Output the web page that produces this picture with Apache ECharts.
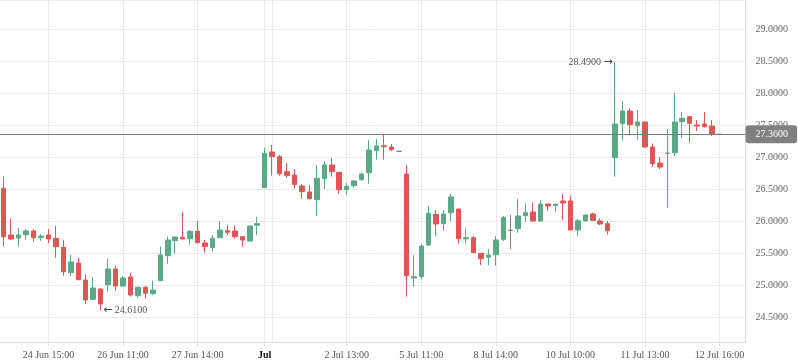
<!DOCTYPE html>
<html>
<head>
<meta charset="utf-8">
<script src="https://cdn.jsdelivr.net/npm/echarts@6/dist/echarts.min.js"></script>
<style>
html,body{margin:0;padding:0;background:#fff;}
#chart{width:798px;height:363px;}
</style>
</head>
<body>
<div id="chart"></div>
<script>
// ---- data ----
const opens = [26.516,25.786,25.739,25.791,25.849,25.744,25.786,25.734,25.594,25.197,
25.348,25.083,24.781,24.942,25.010,25.255,24.989,25.130,24.838,24.969,
24.869,25.072,25.463,25.697,25.750,25.728,25.843,25.661,25.588,25.744,
25.854,25.849,25.760,25.692,25.937,26.525,27.083,27.010,26.775,26.723,
26.552,26.458,26.338,26.666,26.880,26.765,26.494,26.556,26.650,26.760,
27.104,27.181,27.161,27.094,26.739,25.114,25.135,25.630,26.109,25.963,
26.134,26.192,25.724,25.744,25.500,25.437,25.478,25.718,25.859,25.884,
26.088,26.145,26.005,26.270,26.249,26.317,26.317,25.864,26.005,26.114,
26.005,25.963,26.994,27.525,27.723,27.494,27.552,27.161,26.911,27.059,
27.072,27.557,27.635,27.505,27.520,27.489,27.360];
const closes = [25.759,25.724,25.786,25.849,25.744,25.770,25.723,25.603,25.212,25.364,
25.088,24.770,24.958,24.708,25.255,24.989,25.114,24.849,24.969,24.875,
24.927,25.474,25.708,25.755,25.724,25.843,25.666,25.603,25.734,25.864,
25.828,25.760,25.708,25.927,25.963,27.062,27.010,26.744,26.713,26.572,
26.463,26.353,26.672,26.880,26.775,26.494,26.547,26.630,26.739,27.114,
27.177,27.166,27.119,27.094,25.150,25.135,25.614,26.125,25.958,26.114,
26.380,25.728,25.744,25.510,25.416,25.473,25.708,26.062,25.859,26.083,
26.134,26.005,26.270,26.239,26.265,26.286,25.864,26.010,26.098,26.015,
25.958,25.853,27.520,27.723,27.510,27.552,27.161,26.900,26.848,27.067,
27.552,27.609,27.531,27.489,27.479,27.364,27.360];
const lows = [25.603,25.708,25.603,25.708,25.681,25.697,25.656,25.431,25.150,25.145,
25.080,24.708,24.770,24.610,24.900,24.911,24.979,24.822,24.806,24.791,
24.849,25.070,25.338,25.494,25.720,25.635,25.656,25.510,25.526,25.744,
25.786,25.734,25.603,25.690,25.786,26.520,26.713,26.713,26.681,26.510,
26.353,26.343,26.088,26.505,26.697,26.431,26.416,26.525,26.630,26.588,
26.963,26.963,27.099,27.094,24.822,24.978,25.093,25.614,25.770,25.853,
26.005,25.650,25.650,25.505,25.317,25.317,25.302,25.692,25.567,25.822,
25.994,25.994,25.994,26.166,26.150,26.020,25.860,25.770,26.000,26.010,
25.942,25.791,26.697,27.259,27.364,27.270,27.150,26.853,26.817,26.213,
27.020,27.302,27.228,27.411,27.463,27.333,27.360];
const highs = [26.697,26.036,25.895,25.880,25.875,25.801,25.880,25.931,25.708,25.473,
25.431,25.172,25.130,24.950,25.411,25.302,25.145,25.197,24.975,24.994,
25.072,25.603,25.760,25.760,26.145,25.864,26.005,25.708,25.786,26.005,
25.947,25.931,25.765,25.930,26.072,27.150,27.192,27.041,26.911,26.817,
26.583,26.567,26.880,26.942,26.989,26.770,26.598,26.645,26.760,27.270,
27.286,27.370,27.208,27.094,26.880,25.473,25.645,26.239,26.177,26.177,
26.427,26.195,25.890,25.770,25.505,25.567,25.770,26.083,26.098,26.348,
26.281,26.291,26.333,26.275,26.281,26.427,26.400,26.036,26.100,26.135,
26.047,26.005,28.490,27.880,27.765,27.739,27.560,27.218,27.005,27.442,
28.010,27.708,27.645,27.583,27.708,27.583,27.360];
const slotCount = 100; // candle slots on the axis (last few empty)
const tickIndexes = [6, 16, 26, 35, 46, 56, 66, 76, 86, 96];
const tickLabels = ['24 Jun 15:00','26 Jun 11:00','27 Jun 14:00','Jul','2 Jul 13:00',
                    '5 Jul 11:00','8 Jul 14:00','10 Jul 10:00','11 Jul 13:00','12 Jul 16:00'];
const gridIndexes = [6, 16, 26, 35, 36, 46, 56, 66, 76, 86, 96];
const boldLabels = ['Jul'];
const lastPrice = 27.36;
const yMin = 24.114, yMax = 29.458;

// ---- build ----
const categories = [];
for (let i = 0; i < slotCount; i++) categories.push(String(i));
const ohlc = [];
for (let i = 0; i < slotCount; i++) {
  if (i < opens.length) ohlc.push([opens[i], closes[i], lows[i], highs[i]]);
  else ohlc.push('-');
}
const labelMap = {};
tickIndexes.forEach((idx, k) => { labelMap[idx] = tickLabels[k]; });

const FONT = 'Liberation Serif';
const arrowRich = {a: {fontFamily: 'DejaVu Sans', fontSize: 11, color: '#444'}};
const chart = echarts.init(document.getElementById('chart'), null, {renderer: 'canvas'});
chart.setOption({
  animation: false,
  backgroundColor: '#ffffff',
  grid: {left: 0, right: 52.4, top: 0, bottom: 21, containLabel: false},
  xAxis: {
    type: 'category',
    data: categories,
    boundaryGap: true,
    axisLine: {show: true, lineStyle: {color: '#dcdcdc'}},
    axisTick: {show: true, alignWithLabel: true, length: 4,
               interval: (i) => tickIndexes.indexOf(i) >= 0,
               lineStyle: {color: '#dcdcdc'}},
    axisLabel: {
      interval: (i) => tickIndexes.indexOf(i) >= 0,
      formatter: (v, i) => {
        const t = labelMap[i] || '';
        return boldLabels.indexOf(t) >= 0 ? '{b|' + t + '}' : t;
      },
      color: '#555', fontFamily: FONT, fontSize: 10, margin: 8,
      rich: {b: {fontWeight: 'bold', color: '#111', fontFamily: FONT, fontSize: 10}}
    },
    splitLine: {show: true, alignWithLabel: true,
                interval: (i) => gridIndexes.indexOf(i) >= 0,
                lineStyle: {color: '#ebebeb'}}
  },
  yAxis: {
    type: 'value',
    position: 'right',
    min: yMin, max: yMax,
    splitNumber: 10,
    scale: true,
    axisLine: {show: true, lineStyle: {color: '#dcdcdc'}},
    axisTick: {show: false},
    axisLabel: {
      showMinLabel: false, showMaxLabel: false,
      formatter: (v) => Math.abs(v * 2 - Math.round(v * 2)) < 1e-6 ? v.toFixed(4) : '',
      color: '#666', fontFamily: FONT, fontSize: 10, margin: 10
    },
    splitLine: {show: true, lineStyle: {color: '#ebebeb'}}
  },
  series: [{
    type: 'candlestick',
    data: ohlc,
    barWidth: 5,
    itemStyle: {
      color: '#5baa87', color0: '#e05654',
      borderColor: '#5baa87', borderColor0: '#e05654',
      borderColorDoji: '#808080', borderWidth: 1
    },
    markPoint: {
      symbol: 'rect', symbolSize: 1,
      itemStyle: {color: 'rgba(0,0,0,0)'},
      silent: true,
      data: [
        {type: 'max', valueDim: 'highest', name: 'max',
         label: {position: 'left', distance: 2,
                 formatter: (p) => p.value.toFixed(4) + ' {a|\u2192}'}},
        {type: 'min', valueDim: 'lowest', name: 'min',
         label: {position: 'right', distance: 2,
                 formatter: (p) => '{a|\u2190} ' + p.value.toFixed(4)}}
      ],
      label: {show: true, color: '#555', fontFamily: FONT, fontSize: 10, rich: arrowRich}
    },
    markLine: {
      silent: true,
      symbol: ['none', 'none'],
      lineStyle: {color: '#7a7a7a', type: 'solid', width: 1},
      label: {
        position: 'end', distance: 0,
        formatter: () => lastPrice.toFixed(4),
        color: '#fff', backgroundColor: '#808080',
        padding: [4, 9, 4, 10], borderRadius: 3,
        fontFamily: FONT, fontSize: 10
      },
      data: [{yAxis: lastPrice}]
    }
  }]
});
</script>
</body>
</html>
